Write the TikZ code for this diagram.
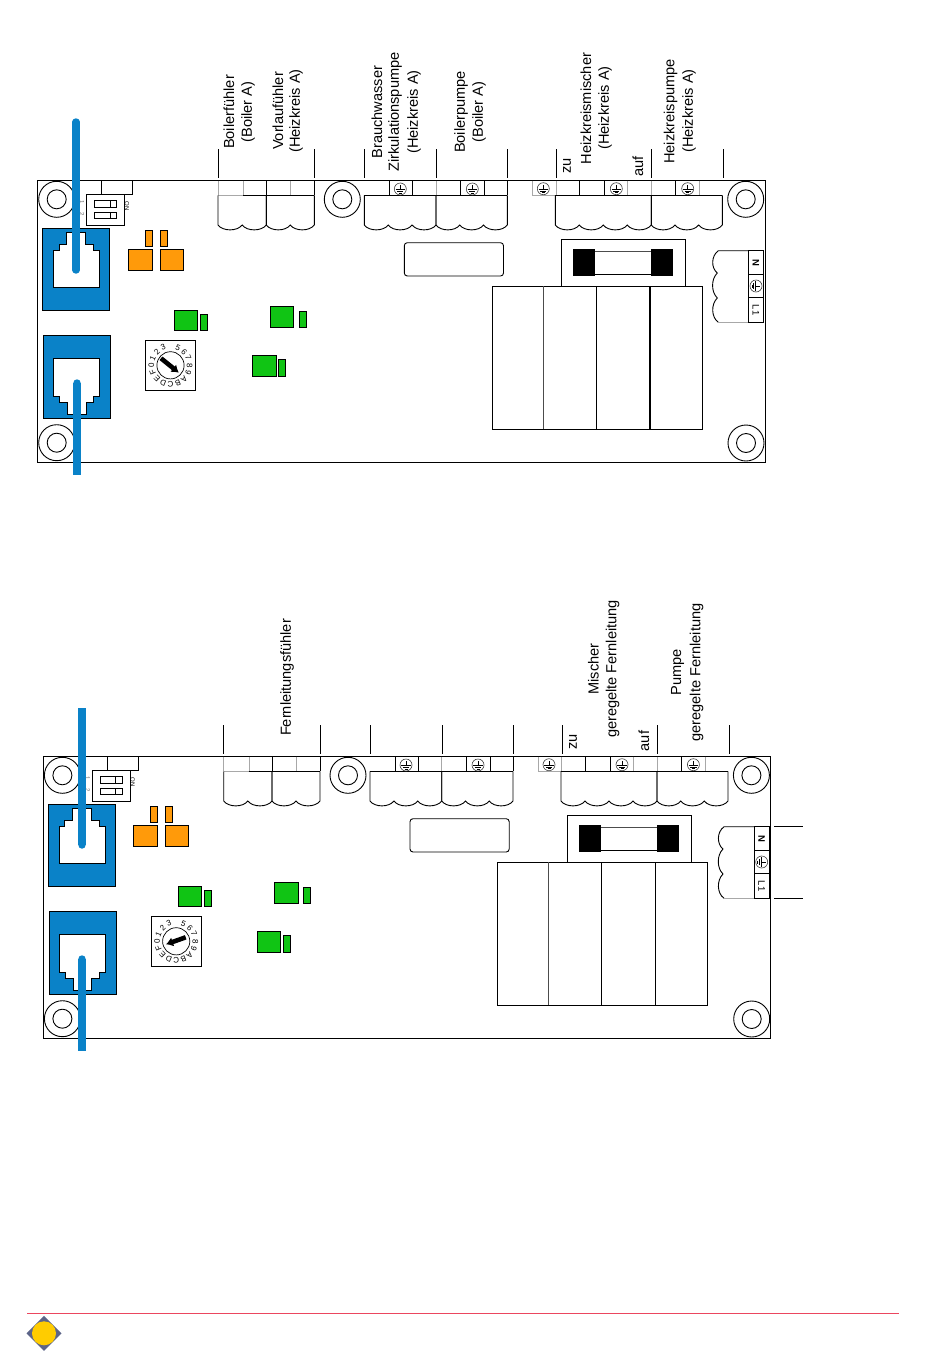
\documentclass[tikz,border=0pt]{standalone}
\usepackage{fontspec}
\setmainfont{Liberation Sans}
\usetikzlibrary{arrows.meta}
\definecolor{cblue}{HTML}{0A82C8}
\definecolor{corange}{HTML}{FF9A0A}
\definecolor{cgreen}{HTML}{10C414}
\definecolor{cgray}{HTML}{A8A8A8}
\definecolor{cfoot}{RGB}{235,70,95}
\definecolor{cdiam}{HTML}{5C6488}
\definecolor{cyel}{HTML}{FFCC00}
\tikzset{
  part/.style={draw=black,line width=0.9pt},
  bluepart/.style={draw=black,line width=0.9pt,fill=cblue},
  orangepart/.style={draw=black,line width=0.8pt,fill=corange},
  greenpart/.style={draw=black,line width=0.8pt,fill=cgreen},
  softline/.style={draw=cgray,line width=0.9pt},
  cable/.style={draw=cblue,line width=7.4pt},
  lab/.style={rotate=90,inner sep=0pt,font=\fontsize{14.6}{16}\selectfont,anchor=center},
  tiny/.style={inner sep=0pt,font=\fontsize{6}{7}\selectfont},
  dial/.style={inner sep=0pt,font=\fontsize{8}{9}\selectfont},
}
% earth symbol at (x,y), rotated by #3
\newcommand{\earth}[3]{%
  \begin{scope}[shift={(#1,#2)},rotate=#3]
    \draw[line width=0.6pt,draw=black!75] (0,0) circle (6);
    \draw[line width=0.8pt] (0,-3.8) -- (0,0.4) (-4.8,0.4) -- (4.8,0.4) (-3.1,2.2) -- (3.1,2.2) (-1.5,4) -- (1.5,4);
  \end{scope}}
% scalloped block: left x, right x, number of scallops
\newcommand{\plug}[3]{%
  \draw[line width=0.9pt] (#1,195.3) -- (#1,225)
    \foreach \k in {1,...,#3} { .. controls ({#1+(\k-0.8)*(#2-#1)/#3},231.5) and ({#1+(\k-0.2)*(#2-#1)/#3},231.5) .. ({#1+\k*(#2-#1)/#3},225) }
    -- (#2,195.3);}
\newcommand{\mount}[2]{%
  \draw[part] (#1,#2) circle (18);
  \draw[part] (#1,#2) circle (9.5);}
% the circuit board; #1 #2 arrow tail, #3 #4 arrow tip
% #5 x correction of the small parts, #6 extra x correction of the first green pair, #7 x correction of the relays
\newcommand{\pcb}[7]{%
  \draw[line width=1pt] (37.6,180.6) rectangle (765,462);
  \mount{56.7}{199.3}\mount{56.7}{442.7}\mount{745.7}{199.3}\mount{746}{443}\mount{342.3}{199.3}
  % dip switch
  \draw[part] (101.3,180.6) rectangle (132.7,194.5);
  \draw[part,fill=white] (86.3,194.3) rectangle (124.7,225.7);
  \draw[line width=0.8pt] (94.3,200.7) rectangle (116.7,207.3) (94.3,212.3) rectangle (116.7,218.7) (110,200.7) -- (110,207.3) (110,212.3) -- (110,218.7);
  \node[tiny,rotate=-90] (on) at (127,206) {ON};
  \node[tiny,rotate=-90,text=black!60] (one) at (82,201.7) {1};
  \node[tiny,rotate=-90,text=black!60] (two) at (82,214) {2};
  % jacks
  \draw[bluepart] (42.3,228.3) rectangle (109.7,310.3);
  \draw[part,fill=white] (66.7,232.3) -- (85.7,232.3) -- (85.7,244.3) -- (93.3,244.3) -- (93.3,250.3) -- (99.7,250.3) -- (99.7,287.3) -- (53.3,287.3) -- (53.3,250.3) -- (59,250.3) -- (59,244.3) -- (66.7,244.3) -- cycle;
  \draw[bluepart] (43.3,335.7) rectangle (110.3,418);
  \draw[part,fill=white] (53.7,358.7) -- (99.3,358.7) -- (99.3,396.7) -- (93.3,396.7) -- (93.3,402.7) -- (86,402.7) -- (86,414.3) -- (67.7,414.3) -- (67.7,402.7) -- (59.3,402.7) -- (59.3,396.7) -- (53.7,396.7) -- cycle;
  \begin{scope}[xshift=#5]
  % orange
  \draw[orangepart] (145.3,230.3) rectangle (152.7,246.7);
  \draw[orangepart] (160.3,230.3) rectangle (167.7,246.7);
  \draw[orangepart] (128.3,249.3) rectangle (152.7,270.3);
  \draw[orangepart] (160.3,249.3) rectangle (183.7,270.3);
  % green
  \draw[greenpart] (270,306.3) rectangle (293.5,327);
  \draw[greenpart] (299,311) rectangle (306,327);
  \draw[greenpart] (252.3,355) rectangle (276,376);
  \draw[greenpart] (278.3,359) rectangle (285.5,376);
  \begin{scope}[xshift=#6]
  \draw[greenpart] (174.3,310.3) rectangle (197.7,330.7);
  \draw[greenpart] (200.3,314.3) rectangle (207.7,330.7);
  \end{scope}
  \end{scope}
  % rotary switch
  \draw[part] (145.3,340.3) rectangle (195.7,390.3);
  \draw[line width=0.7pt] (170.5,365.3) circle (13.6);
  \foreach \c [count=\i from 0] in {0,1,2,3,,5,6,7,8,9,A,B,C,D,E,F} {
    \pgfmathsetmacro{\ang}{(\i-4)*22.5}
    \node[dial,rotate=-\ang] (dial\i) at ({170.5+19.2*sin(\ang)},{365.3-19.2*cos(\ang)}) {\c};
  }
  \draw[line width=4.6pt,-{Latex[length=7pt,width=9.5pt]}] (#1,#2) -- (#3,#4);
  % connector strips
  \draw[softline] (218,180.6) -- (218,195.3) (243.3,180.6) -- (243.3,195.3) (290.7,180.6) -- (290.7,195.3) (436,180.6) -- (436,195.3) (532.3,180.6) -- (532.3,195.3) (556,180.6) -- (556,195.3) (627.7,180.6) -- (627.7,195.3) (651.3,180.6) -- (651.3,195.3) (699.3,180.6) -- (699.3,195.3);
  \draw[part] (266.3,180.6) -- (266.3,195.3) (314.3,180.6) -- (314.3,195.3) (389.3,180.6) -- (389.3,195.3) (412.7,180.6) -- (412.7,195.3) (460.3,180.6) -- (460.3,195.3) (484.3,180.6) -- (484.3,195.3) (507.3,180.6) -- (507.3,195.3) (579.3,180.6) -- (579.3,195.3) (604.3,180.6) -- (604.3,195.3) (675.3,180.6) -- (675.3,195.3);
  \draw[softline] (218,195.3) -- (243,195.3);
  \draw[part] (243,195.3) -- (314.3,195.3) (364.3,195.3) -- (507.3,195.3) (555.3,195.3) -- (722.3,195.3);
  \draw[softline] (532.3,195.3) -- (555.3,195.3);
  \plug{218}{266.3}{2}\plug{266.3}{314.3}{2}
  \plug{364.3}{436}{3}\plug{436}{507.3}{3}
  \plug{555.3}{651.3}{4}\plug{651.3}{722.3}{3}
  \earth{400.3}{189}{0}\earth{472.3}{189}{0}\earth{543.3}{188.7}{0}\earth{616.3}{188.7}{0}\earth{687.7}{188.7}{0}
  % fuse
  \draw[part] (561.3,239.3) rectangle (685.3,286);
  \draw[draw=black!70,line width=1pt] (595,251) -- (651,251);
  \draw[line width=0.9pt] (595,274.3) -- (651,274.3);
  \fill (573,249) rectangle (595,275.7);
  \fill (651,249) rectangle (673,275.7);
  % label plate
  \draw[part,rounded corners=3pt] (404.3,242.7) rectangle (503.5,276);
  % relays
  \begin{scope}[xshift=#7]
  \draw[part] (492.3,286) rectangle (702.3,429);
  \draw[draw=black!70,line width=1.1pt] (543.7,286) -- (543.7,429);
  \draw[line width=1.1pt] (596.7,286) -- (596.7,429) (650,286) -- (650,429);
  \end{scope}
  % mains terminal
  \draw[part] (748.3,250.7) rectangle (763.7,322.3) (748.3,274.3) -- (763.7,274.3) (748.3,297.7) -- (763.7,297.7);
  \draw[line width=0.9pt] (748.3,250.7) -- (718.3,250.7) .. controls (711,256) and (711,268) .. (717.3,273) .. controls (711,279) and (711,292) .. (717.3,298) .. controls (711,304) and (711,317) .. (718.3,322.3);
  \draw[softline] (718.3,322.3) -- (748.3,322.3);
  \earth{756}{286}{-90}
  \node[inner sep=0pt,rotate=-90,font=\fontsize{9.5}{10}\selectfont\bfseries] (n) at (756,262.5) {N};
  \node[inner sep=0pt,rotate=-90,font=\fontsize{9.5}{10}\selectfont] (lone) at (756,310) {L1};
  % ticks
  \foreach \tx in {218,314.3,364.3,436.5,507.3,556.3,651.3,723.3} \draw[line width=0.9pt] (\tx,149) -- (\tx,178);
}
\begin{document}
\begin{tikzpicture}[x=1pt,y=-1pt]
\useasboundingbox (0,0) rectangle (950,1360);
\fill[white] (0,0) rectangle (950,1360);
% upper board
\pcb{161}{358.3}{178.8}{372.7}{0pt}{0pt}{0pt}
\coordinate (c1a) at (76,122); \coordinate (c1b) at (76,270);
\coordinate (c2a) at (77,383); \coordinate (c2b) at (77,475);
\draw[cable,line cap=round] (c1a) -- (c1b);
\draw[cable] (c2a) -- (c2b);
\fill[cblue] (c2a) circle (3.7);
\node[lab] (t1a) at (229,112) {Boilerfühler};
\node[lab] (t1b) at (248,112) {(Boiler A)};
\node[lab] (t2a) at (278,111) {Vorlaufühler};
\node[lab] (t2b) at (296,111) {(Heizkreis A)};
\node[lab] (t3a) at (377,112) {Brauchwasser};
\node[lab] (t3b) at (395,112) {Zirkulationspumpe};
\node[lab] (t3c) at (414,112) {(Heizkreis A)};
\node[lab] (t4a) at (461,112) {Boilerpumpe};
\node[lab] (t4b) at (479,112) {(Boiler A)};
\node[lab] (t5z) at (567,166) {zu};
\node[lab] (t5a) at (586,108.5) {Heizkreismischer};
\node[lab] (t5b) at (605,108) {(Heizkreis A)};
\node[lab] (t5u) at (638,166.5) {auf};
\node[lab] (t6a) at (670.5,111.5) {Heizkreispumpe};
\node[lab] (t6b) at (689,111) {(Heizkreis A)};
% lower board
\begin{scope}[shift={(5.7,576)}]
\pcb{180}{361.3}{160.3}{368.3}{-1pt}{-1pt}{-0.5pt}
\end{scope}
\coordinate (d1a) at (82,708); \coordinate (d1b) at (82,845);
\coordinate (d2a) at (82,959); \coordinate (d2b) at (82,1051);
\draw[cable] (d1a) -- (d1b);
\fill[cblue] (d1b) circle (3.7);
\draw[cable] (d2a) -- (d2b);
\fill[cblue] (d2a) circle (3.7);
\coordinate (r1a) at (774,826.3); \coordinate (r1b) at (803.3,826.3);
\coordinate (r2a) at (774,898.3); \coordinate (r2b) at (803.3,898.3);
\draw[line width=0.9pt] (r1a) -- (r1b) (r2a) -- (r2b);
\node[lab] (u1) at (287,677.5) {Fernleitungsfühler};
\node[lab] (u2z) at (573,742) {zu};
\node[lab] (u2a) at (593.5,669) {Mischer};
\node[lab] (u2b) at (612.5,669) {geregelte Fernleitung};
\node[lab] (u2u) at (644,741) {auf};
\node[lab] (u3a) at (677.5,672) {Pumpe};
\node[lab] (u3b) at (696.5,672.5) {geregelte Fernleitung};
% footer
\coordinate (fa) at (27,1313.5); \coordinate (fb) at (899,1313.5);
\draw[cfoot,line width=1.4pt] (fa) -- (fb);
\fill[cdiam] (44,1315.8) -- (61.5,1333.3) -- (44,1350.8) -- (26.5,1333.3) -- cycle;
\fill[cyel] (44,1333.3) circle (12);
\end{tikzpicture}
\end{document}
